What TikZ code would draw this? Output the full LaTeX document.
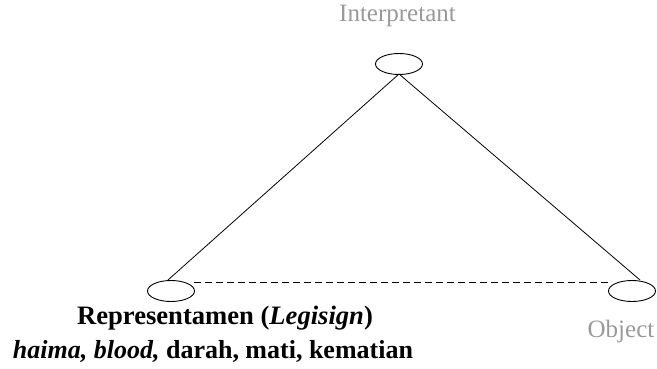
\documentclass[tikz,border=0pt]{standalone}
\usepackage{fontspec}
\setmainfont{Liberation Serif}
\usetikzlibrary{shapes.geometric}
\begin{document}
\begin{tikzpicture}[x=1pt,y=-1pt,
  vert/.style={draw,line width=0.9pt,ellipse,minimum width=47pt,minimum height=21pt,inner sep=0pt},
  edge/.style={draw,line width=0.8pt},
  graylabel/.style={text=black!40,font=\fontsize{25}{30}\selectfont,anchor=base,inner sep=0pt},
  boldlabel/.style={font=\bfseries\fontsize{26.6}{31}\selectfont,anchor=base,inner sep=0pt}]
\useasboundingbox (0,0) rectangle (657,369);
\node[vert] (I) at (399,64) {};
\node[vert] (R) at (171,291) {};
\node[vert] (O) at (632,291) {};
\coordinate (It) at (399,74);
\coordinate (Rt) at (168,280);
\coordinate (Ot) at (640,280);
\coordinate (Rd) at (194,282);
\coordinate (Od) at (610,282);
\draw[edge] (It) -- (Rt);
\draw[edge] (It) -- (Ot);
\draw[edge,dash pattern=on 7pt off 4pt] (Rd) -- (Od);
\node[graylabel] (It2) at (397.5,22) {Interpretant};
\node[graylabel] (Ol) at (621,337) {Object};
\node[boldlabel] (Rl1) at (225,324) {Representamen (\textit{Legisign})};
\node[boldlabel,font=\bfseries\fontsize{26}{31}\selectfont] (Rl2) at (213,358) {\textit{haima, blood,} darah, mati, kematian};
\end{tikzpicture}
\end{document}
